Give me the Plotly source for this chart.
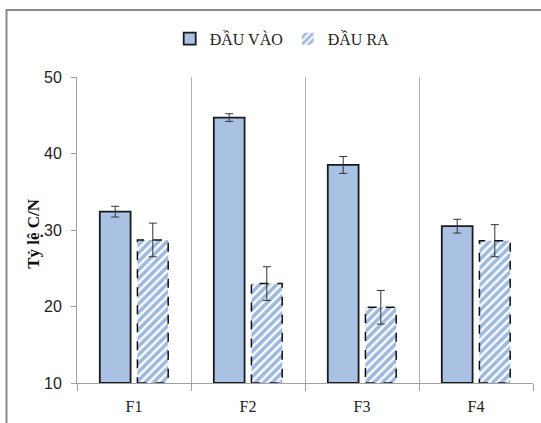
import plotly.graph_objects as go

categories = ["F1", "F2", "F3", "F4"]
input_vals = [32.4, 44.7, 38.5, 30.5]
input_err = [0.7, 0.5, 1.1, 0.9]
output_vals = [28.7, 23.0, 19.9, 28.6]
output_err = [2.2, 2.2, 2.2, 2.1]
series_names = ["ĐẦU VÀO", "ĐẦU RA"]
y_ticks = [10, 20, 30, 40, 50]
y_title = "Tỷ lệ C/N"

BAR_W = 0.27
OFF_IN = -0.30
OFF_OUT = 0.03
BASE = 10

fig = go.Figure()
fig.add_trace(go.Bar(
    x=categories, y=[v - BASE for v in input_vals], base=BASE, name=series_names[0],
    width=BAR_W, offset=OFF_IN,
    marker=dict(color="#a9c1e3", line=dict(color="#1a1a1a", width=1.8)),
    error_y=dict(type="data", array=input_err, color="#333333", thickness=1, width=4),
))
fig.add_trace(go.Bar(
    x=categories, y=[v - BASE for v in output_vals], base=BASE, name=series_names[1],
    width=BAR_W, offset=OFF_OUT,
    marker=dict(color="white", line=dict(color="rgba(0,0,0,0)", width=0),
                pattern=dict(shape="/", fgcolor="#3d74c0", bgcolor="white",
                             size=6, solidity=0.6)),
    error_y=dict(type="data", array=output_err, color="#333333", thickness=1, width=4),
))

# dashed outlines for output bars (derived from data)
for i, v in enumerate(output_vals):
    fig.add_shape(type="rect", xref="x", yref="y",
                  x0=i + OFF_OUT, x1=i + OFF_OUT + BAR_W, y0=BASE, y1=v,
                  line=dict(color="#111111", width=1.5, dash="dash"))

# outer chart border
fig.add_shape(type="rect", xref="paper", yref="paper",
              x0=-0.1546, x1=1.3, y0=-0.6, y1=1.219,
              line=dict(color="#8a8a8a", width=2), layer="below")

fig.add_annotation(text="<b>" + y_title + "</b>", xref="paper", yref="paper",
                   x=-0.097, y=0.49, xanchor="center", yanchor="middle",
                   textangle=-90, showarrow=False,
                   font=dict(family="Liberation Serif", size=17, color="#111111"))

fig.update_layout(
    width=541, height=423,
    margin=dict(l=77, r=8, t=77, b=40),
    paper_bgcolor="white", plot_bgcolor="white",
    barmode="overlay",
    showlegend=True,
    legend=dict(orientation="h", x=0.45, xanchor="center", y=1.125, yanchor="middle",
                font=dict(family="Liberation Serif", size=16, color="#222222"),
                itemwidth=30, traceorder="normal"),
    xaxis=dict(type="category", range=[-0.5, 3.5], tickson="boundaries",
               showgrid=True, gridcolor="#b0b0b0", gridwidth=1,
               showline=True, linecolor="#a0a0a0", linewidth=1,
               ticks="outside", ticklen=7, tickcolor="#a0a0a0", ticklabelstandoff=9,
               tickfont=dict(family="Liberation Serif", size=16, color="#222222")),
    yaxis=dict(range=[10, 50], tickvals=y_ticks, showgrid=False, zeroline=False,
               showline=True, linecolor="#a0a0a0", linewidth=1,
               ticks="outside", ticklen=5, tickcolor="#a0a0a0", ticklabelstandoff=6,
               tickfont=dict(family="Liberation Sans", size=16, color="#222222")),
)

fig.write_html("out.html", config={"displayModeBar": False},
               post_script="document.body.style.margin='0';document.body.style.overflow='hidden';")
